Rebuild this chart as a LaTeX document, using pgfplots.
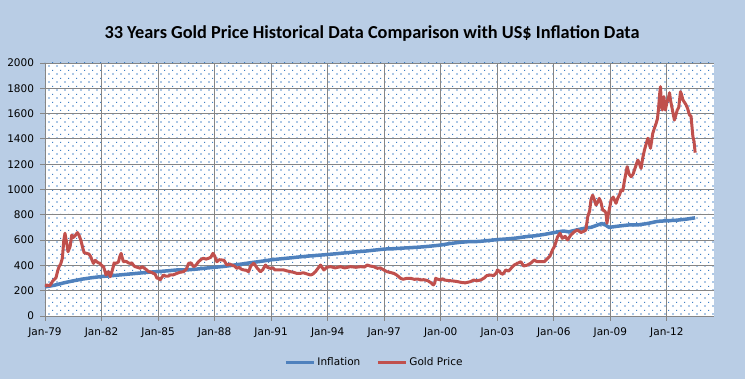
\documentclass[border=0pt]{standalone}
\usepackage{fontspec}
\setmainfont{DejaVu Sans}
\newfontfamily\titlefont{Carlito}
\usepackage{pgfplots}
\pgfplotsset{compat=1.18}
\usetikzlibrary{patterns}
\definecolor{bgblue}{HTML}{B9CDE5}
\definecolor{gridgray}{HTML}{868686}
\definecolor{dotblue}{HTML}{3F7FC4}
\definecolor{inflblue}{HTML}{4F81BD}
\definecolor{goldred}{HTML}{C0504D}
\pgfdeclarepatternformonly{exceldots}{\pgfqpoint{0pt}{0pt}}{\pgfqpoint{8pt}{8pt}}{\pgfqpoint{8pt}{8pt}}{%
 \pgfpathrectangle{\pgfqpoint{0.5pt}{0.5pt}}{\pgfqpoint{1.2pt}{1.2pt}}%
 \pgfpathrectangle{\pgfqpoint{4.5pt}{4.5pt}}{\pgfqpoint{1.2pt}{1.2pt}}%
 \pgfusepath{fill}}

\pgfplotstableread{
x y
1979.0 230
1979.5 243
1980.0 262
1980.5 278
1981.0 292
1981.5 303
1982.0 312
1982.5 318
1983.0 325
1983.5 332
1984.0 339
1984.5 346
1985.0 351
1985.5 357
1986.0 364
1986.5 364
1987.0 370
1987.5 378
1988.0 385
1988.5 392
1989.0 402
1989.5 412
1990.0 423
1990.5 433
1991.0 444
1991.5 452
1992.0 459
1992.5 467
1993.0 474
1993.5 480
1994.0 486
1994.5 493
1995.0 500
1995.5 507
1996.0 513
1996.5 521
1997.0 529
1997.5 532
1998.0 537
1998.5 541
1999.0 546
1999.5 553
2000.0 561
2000.5 573
2001.0 582
2001.5 588
2002.0 589
2002.5 596
2003.0 604
2003.5 609
2004.0 616
2004.5 627
2005.0 634
2005.5 645
2006.0 659
2006.5 672
2006.8 665
2007.0 673
2007.5 690
2008.0 702
2008.3 718
2008.55 731
2008.75 718
2008.95 699
2009.0 702
2009.5 712
2010.0 720
2010.5 721
2011.0 732
2011.5 748
2012.0 753
2012.5 757
2013.0 765
2013.5 776
}\inflation

\pgfplotstableread{
x y
1979.00 232
1979.08 245
1979.17 242
1979.25 239
1979.33 257
1979.42 279
1979.50 290
1979.58 301
1979.67 355
1979.75 392
1979.83 410
1979.92 456
1980.00 600
1980.06 654
1980.17 560
1980.22 508
1980.33 548
1980.42 640
1980.50 620
1980.60 636
1980.72 659
1980.80 640
1980.90 600
1981.00 540
1981.08 500
1981.21 495
1981.33 490
1981.42 470
1981.50 440
1981.57 416
1981.67 440
1981.75 429
1981.83 420
1981.92 416
1982.00 400
1982.10 390
1982.17 360
1982.24 324
1982.30 345
1982.37 350
1982.46 311
1982.53 340
1982.60 377
1982.67 420
1982.72 416
1982.83 420
1982.90 429
1982.97 470
1983.04 495
1983.10 460
1983.16 429
1983.25 432
1983.34 429
1983.42 420
1983.52 416
1983.60 420
1983.70 400
1983.78 390
1983.90 385
1984.05 377
1984.15 390
1984.25 380
1984.40 364
1984.50 350
1984.60 348
1984.76 337
1984.85 330
1984.94 298
1985.05 300
1985.11 285
1985.20 305
1985.29 324
1985.40 315
1985.56 316
1985.64 324
1985.80 325
1986.00 337
1986.15 345
1986.35 350
1986.50 370
1986.62 416
1986.75 420
1986.88 390
1987.00 400
1987.15 429
1987.30 450
1987.41 456
1987.55 450
1987.68 456
1987.80 465
1987.91 495
1988.00 475
1988.12 429
1988.25 445
1988.38 443
1988.50 440
1988.65 403
1988.80 410
1988.91 403
1989.05 395
1989.18 377
1989.30 385
1989.42 370
1989.54 364
1989.67 362
1989.80 350
1989.92 395
1990.07 416
1990.15 403
1990.25 380
1990.43 350
1990.55 365
1990.70 403
1990.80 385
1990.96 377
1991.10 380
1991.20 364
1991.32 364
1991.49 364
1991.67 364
1991.80 358
1992.03 350
1992.20 345
1992.35 337
1992.55 337
1992.70 342
1992.85 335
1993.09 324
1993.20 330
1993.35 350
1993.50 380
1993.62 403
1993.72 380
1993.80 364
1993.95 385
1994.15 390
1994.40 380
1994.68 390
1994.90 380
1995.21 390
1995.50 385
1995.75 390
1995.95 387
1996.10 403
1996.25 395
1996.45 390
1996.63 377
1996.80 380
1996.98 364
1997.15 350
1997.30 345
1997.51 337
1997.65 325
1997.87 298
1998.00 290
1998.20 298
1998.40 298
1998.60 290
1998.80 292
1998.93 285
1999.10 287
1999.30 280
1999.47 264
1999.61 245
1999.68 260
1999.73 298
1999.85 290
2000.00 285
2000.10 295
2000.17 285
2000.40 280
2000.60 278
2000.88 272
2001.10 265
2001.30 262
2001.59 272
2001.75 285
2001.90 278
2002.13 285
2002.30 300
2002.45 320
2002.66 324
2002.80 318
2002.95 340
2003.01 364
2003.10 355
2003.19 337
2003.30 330
2003.45 364
2003.60 355
2003.75 380
2003.90 403
2004.05 415
2004.25 429
2004.40 395
2004.61 403
2004.80 420
2004.96 443
2005.10 430
2005.30 430
2005.49 429
2005.67 456
2005.80 475
2005.93 522
2006.05 555
2006.20 627
2006.33 654
2006.45 614
2006.60 630
2006.73 601
2006.90 640
2007.09 666
2007.25 680
2007.44 660
2007.60 670
2007.70 680
2007.80 785
2007.90 830
2007.97 917
2008.06 955
2008.15 920
2008.24 877
2008.33 900
2008.41 930
2008.50 900
2008.59 838
2008.70 830
2008.77 812
2008.82 733
2008.90 812
2008.97 860
2009.04 917
2009.15 940
2009.30 891
2009.39 930
2009.48 956
2009.57 996
2009.66 990
2009.74 1062
2009.89 1180
2010.00 1120
2010.10 1101
2010.20 1120
2010.28 1154
2010.38 1200
2010.46 1233
2010.55 1200
2010.63 1167
2010.72 1250
2010.81 1312
2010.90 1360
2010.99 1405
2011.06 1370
2011.13 1326
2011.25 1444
2011.35 1490
2011.43 1523
2011.50 1560
2011.55 1628
2011.62 1760
2011.66 1813
2011.70 1700
2011.75 1628
2011.80 1690
2011.84 1734
2011.92 1628
2012.01 1694
2012.08 1720
2012.14 1765
2012.20 1700
2012.26 1655
2012.33 1600
2012.40 1549
2012.48 1590
2012.55 1628
2012.63 1650
2012.72 1773
2012.78 1750
2012.85 1708
2012.93 1690
2013.02 1668
2013.10 1640
2013.20 1589
2013.28 1580
2013.38 1418
2013.44 1380
2013.50 1291
}\gold

\begin{document}
\begin{tikzpicture}
\fill[bgblue] (-45pt,-63pt) rectangle (700pt,316pt);
\node[font=\titlefont\bfseries\fontsize{18.3}{21}\selectfont] at (327pt,282pt)
  {33 Years Gold Price Historical Data Comparison with US\$ Inflation Data};
\begin{axis}[
  at={(0pt,0pt)}, anchor=south west,
  scale only axis, width=669pt, height=253pt,
  xmin=1979, xmax=2014.5, ymin=0, ymax=2000,
  ytick={0,200,...,2000},
  xtick={1979,1982,1985,1988,1991,1994,1997,2000,2003,2006,2009,2012},
  xticklabels={Jan-79,Jan-82,Jan-85,Jan-88,Jan-91,Jan-94,Jan-97,Jan-00,Jan-03,Jan-06,Jan-09,Jan-12},
  grid=major, major grid style={gridgray, line width=0.9pt},
  axis lines=left, axis line style={-, gridgray, line width=0.9pt},
  tick style={gridgray, line width=0.9pt}, major tick length=5pt, tick align=outside,
  ticklabel style={font=\fontsize{10.5}{12}\selectfont, text=black},
  xticklabel style={yshift=-3pt},
  yticklabel style={xshift=-2.5pt},
  /pgf/number format/assume math mode=true,
  /pgf/number format/1000 sep={},
  axis background/.style={fill=white, postaction={pattern=exceldots, pattern color=dotblue}},
  legend style={at={(axis description cs:0.4925,-0.183)}, anchor=center, draw=none, fill=none,
    font=\fontsize{10.5}{12}\selectfont, legend columns=2,
    /tikz/every even column/.append style={column sep=14pt}},
  legend image code/.code={\draw[#1, line width=3pt] (0pt,0pt) -- (28pt,0pt);},
]
\addplot[inflblue, line width=3.5pt, line join=round] table {\inflation};
\addlegendentry{Inflation}
\addplot[goldred, line width=3pt, line join=round] table {\gold};
\addlegendentry{Gold Price}
\end{axis}
\end{tikzpicture}
\end{document}
